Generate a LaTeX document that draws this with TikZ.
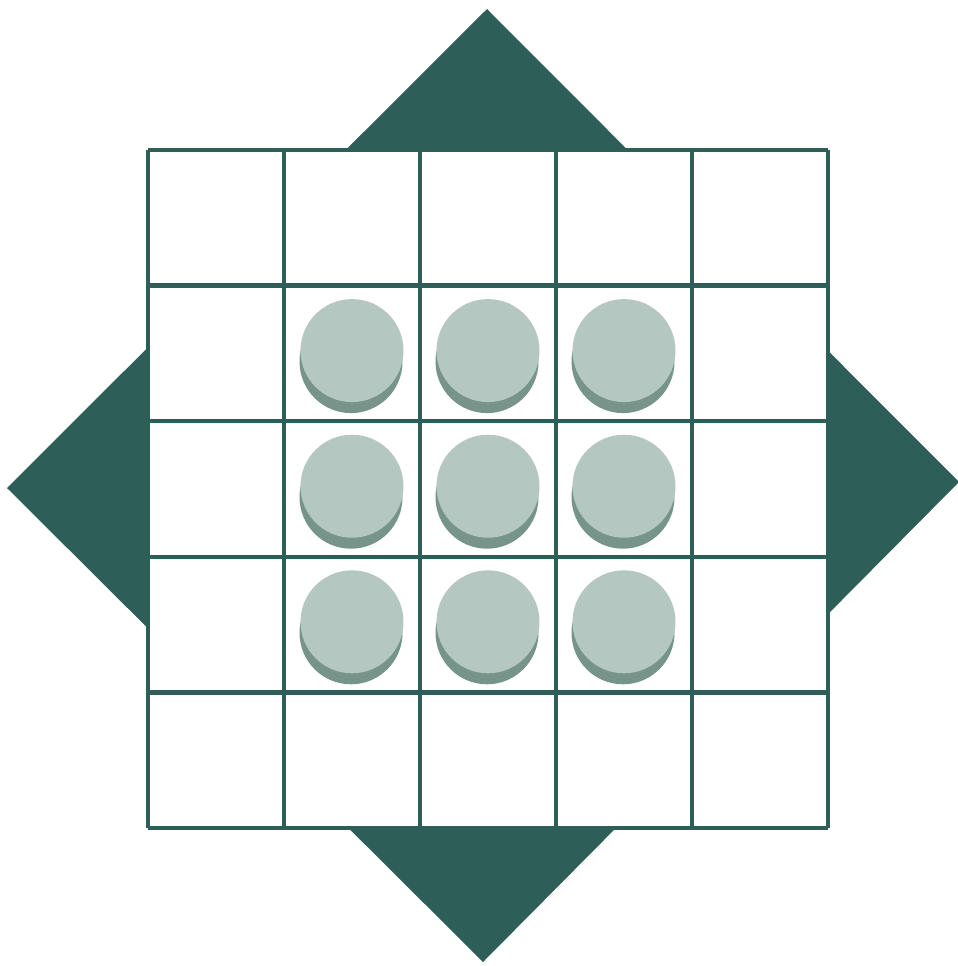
\documentclass[tikz,border=0pt]{standalone}
\usepackage{tikz}
\usetikzlibrary{positioning}

\definecolor{darkteal}{RGB}{46,94,88}
\definecolor{disclight}{RGB}{180,199,193}
\definecolor{discshade}{RGB}{118,148,138}

\begin{document}
\begin{tikzpicture}[
    x=0.1mm, y=-0.1mm,
    star/.style={fill=darkteal, draw=none},
    gridline/.style={draw=darkteal, line width=0.45mm},
    disc/.style={circle, fill=disclight, minimum size=10.3mm, inner sep=0pt},
    discshadow/.style={circle, fill=discshade, minimum size=10.3mm, inner sep=0pt}
]
\useasboundingbox (0,0) rectangle (958,966);

% rotated square behind the board
\fill[star] (487,9) -- (959,482) -- (483,962) -- (7,488) -- cycle;

% board
\fill[white] (148,150) rectangle (828,828);
\foreach \i in {0,...,5} {
    \draw[gridline] (148+136*\i,150) -- (148+136*\i,828);
    \draw[gridline] (148,150+135.6*\i) -- (828,150+135.6*\i);
}

% discs
\foreach \r in {1,2,3} {
    \foreach \c in {1,2,3} {
        \node[discshadow] (shadow-\r-\c) at (215+136*\c,226+135.6*\r) {};
        \node[disc] (disc-\r-\c) at (216+136*\c,215+135.6*\r) {};
    }
}

\end{tikzpicture}
\end{document}
